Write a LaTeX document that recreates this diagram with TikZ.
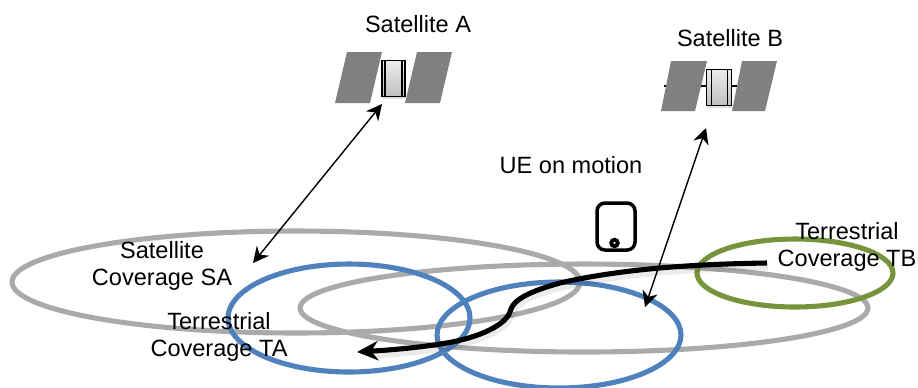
\documentclass[tikz,border=0pt]{standalone}
\usepackage{fontspec}
\setmainfont{Liberation Sans}
\usetikzlibrary{shapes.geometric, arrows.meta, shadows}
\definecolor{covergray}{RGB}{170,170,170}
\definecolor{coverblue}{RGB}{79,129,189}
\definecolor{covergreen}{RGB}{119,147,60}
\definecolor{panelgray}{RGB}{128,128,128}
\tikzset{
  coverage/.style={ellipse, draw, line width=2.9pt, inner sep=0pt},
  label/.style={align=center, font=\fontsize{13.4}{15.4}\selectfont, black},
  link/.style={{Stealth[length=9pt,width=9pt]}-{Stealth[length=9pt,width=9pt]}, line width=0.8pt},
  panel/.style={fill=panelgray, draw=none},
  body/.style={draw=black, line width=1.1pt, top color=gray!15, bottom color=gray!50, inner sep=0pt,
    drop shadow={opacity=0.25, shadow xshift=0pt, shadow yshift=-1.2pt}}
}
\begin{document}
\begin{tikzpicture}[x=0.02cm, y=-0.02cm]
\useasboundingbox (0,0) rectangle (918,387);

\draw 
(296, 282) node[coverage, draw=covergray, minimum width=11.36cm, minimum height=2.04cm](sa){}
(584, 308) node[coverage, draw=covergray, minimum width=11.36cm, minimum height=1.76cm](sb){}
(349, 318) node[coverage, draw=coverblue, minimum width=4.84cm, minimum height=2.16cm](ta){}
(559, 335) node[coverage, draw=coverblue, minimum width=4.88cm, minimum height=2.12cm](tc){}
(795, 273) node[coverage, draw=covergreen, minimum width=3.92cm, minimum height=1.36cm](tb){};

\draw[line width=0.8pt] (664,86) -- (740,86);
\draw[panel] (347,52) -- (382,52) -- (370,103) -- (335,103) -- cycle;
\draw[panel] (417,52) -- (452,52) -- (440,103) -- (405,103) -- cycle;
\draw[panel] (671,61) -- (707,61) -- (695,111) -- (661,111) -- cycle;
\draw[panel] (742,61) -- (777,61) -- (765,111) -- (732,111) -- cycle;

\draw (393.5, 78.5) node[body, minimum width=0.46cm, minimum height=0.72cm](bodya){}
(719, 87.5) node[body, minimum width=0.5cm, minimum height=0.72cm](bodyb){};
\draw[line width=0.9pt] (385,60) -- (385,97) (402,60) -- (402,97);
\draw[line width=0.5pt] (711,69) -- (711,106) (727,69) -- (727,106);

\draw (616, 226.5) node[draw, line width=2pt, rounded corners=1.6mm, minimum width=0.76cm, minimum height=0.94cm](ue){}
(614.5, 243) node[circle, draw, line width=2.2pt, fill=white, inner sep=0pt, minimum size=0.13cm](dot){};

\coordinate (a1) at (382,104);
\coordinate (a2) at (253,263);
\coordinate (b1) at (706,128);
\coordinate (b2) at (645,307);
\draw[link] (a1) -- (a2);
\draw[link] (b1) -- (b2);

\def\motionpath{(767,263) .. controls (700,264) and (625,268) .. (560,283)
  .. controls (520,294) and (512,303) .. (510,312)
  .. controls (504,328) and (470,340) .. (440,344)
  .. controls (415,348) and (390,350) .. (372,351)}
\draw[line width=4pt, black, opacity=0.08, shift={(1,4)}] \motionpath;
\coordinate (p1) at (767,263);
\coordinate (p2) at (357,352);
\draw[line width=2.9pt, -{Stealth[length=12pt,width=11pt]}] (p1) .. controls (700,264) and (625,268) .. (560,283)
  .. controls (520,294) and (512,303) .. (510,312)
  .. controls (504,328) and (470,340) .. (440,344)
  .. controls (415,348) and (390,350) .. (p2);

\draw 
(418, 24) node[label](lsa){Satellite A}
(730, 38) node[label](lsb){Satellite B}
(571, 165) node[label](lue){UE on motion}
(162, 266) node[label](lcsa){Satellite\\Coverage SA}
(219, 337) node[label](lcta){Terrestrial\\Coverage TA}
(847, 247) node[label](lctb){Terrestrial\\Coverage TB};

\end{tikzpicture}
\end{document}
